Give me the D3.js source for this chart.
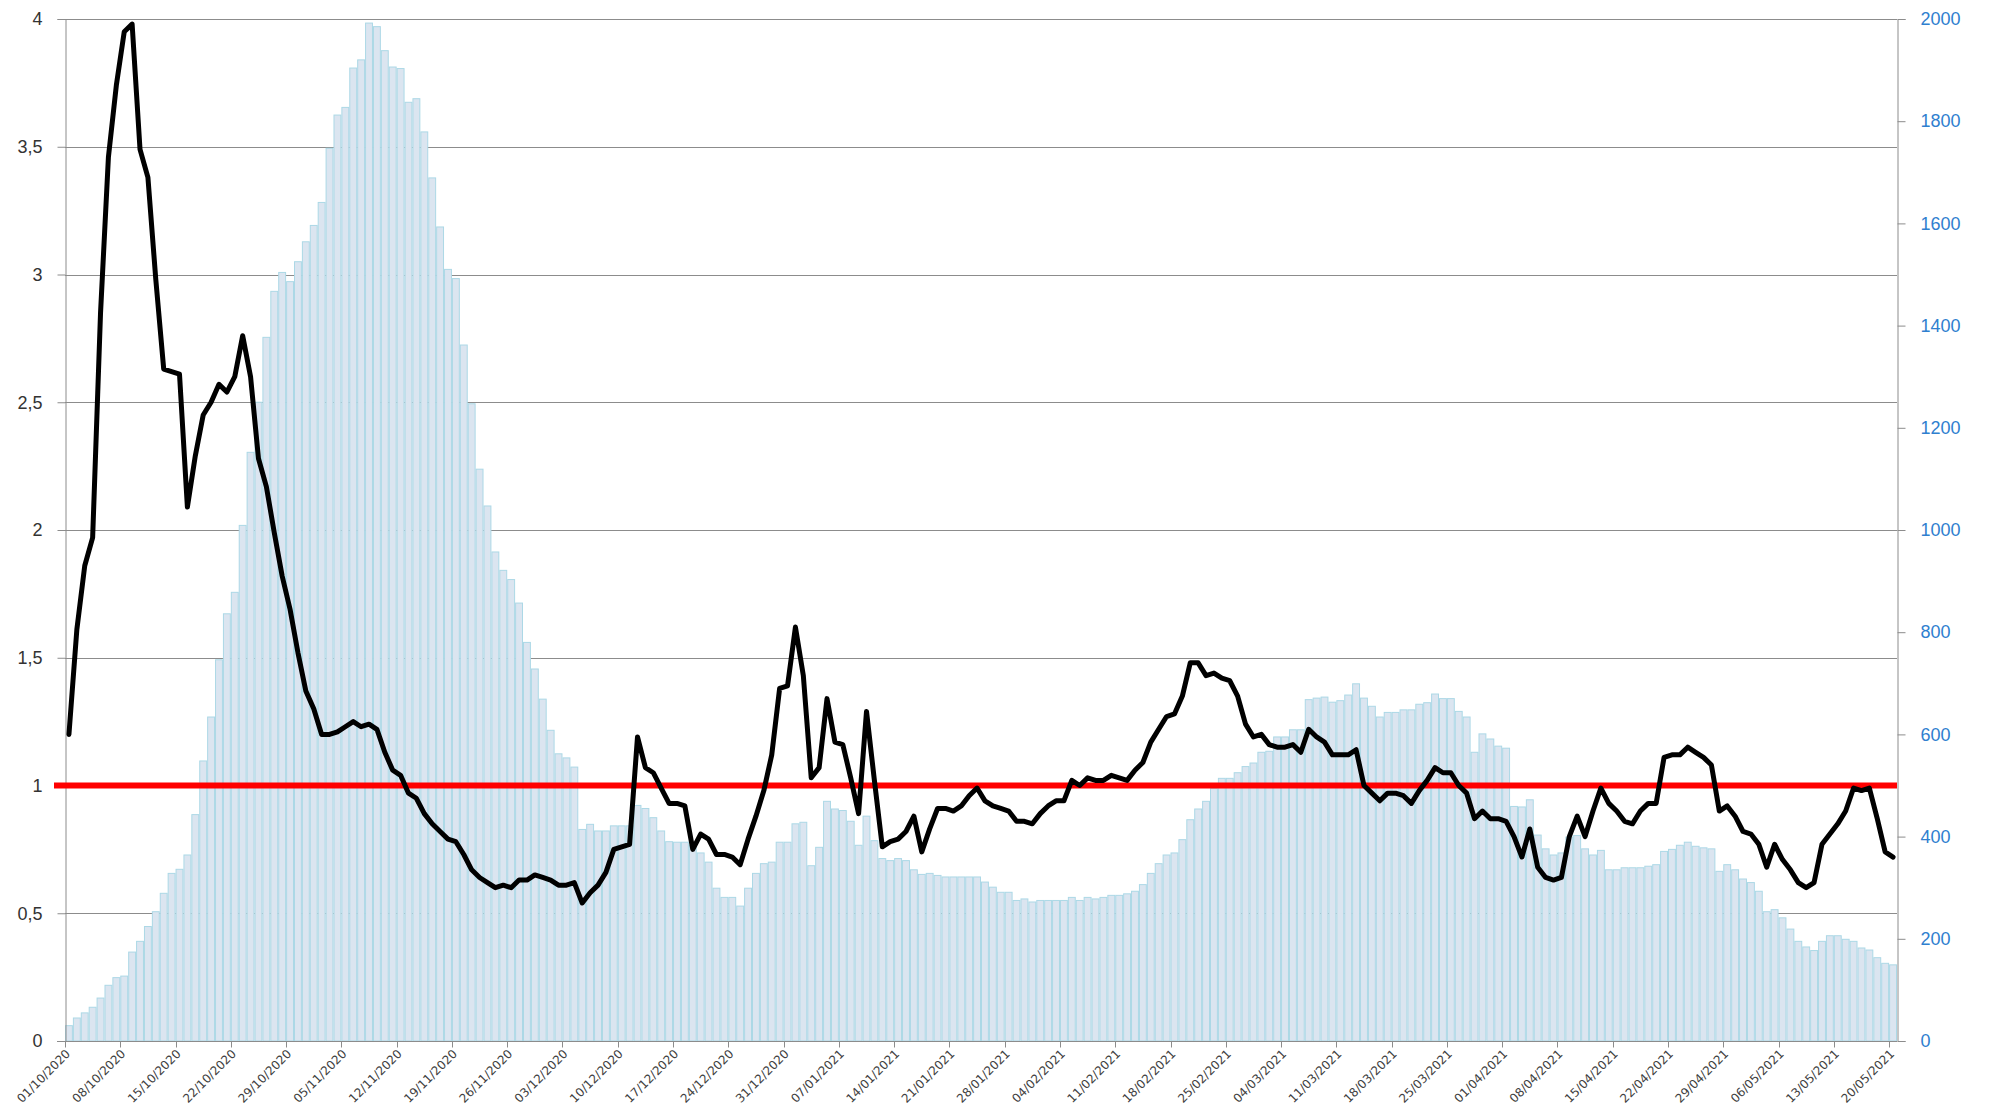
<!DOCTYPE html>
<html>
<head>
<meta charset="utf-8">
<script src="https://cdn.jsdelivr.net/npm/d3@7"></script>
<style>
  body { margin: 0; background: #fff; }
  svg { display: block; font-family: "DejaVu Sans", Verdana, sans-serif; }
</style>
</head>
<body>
<div class="svgContainer"></div>
<script>
const WIDTH = 1993;
const HEIGHT = 1110;
const PLOT_LEFT = 65;
const PLOT_RIGHT = 1897;
const PLOT_TOP = 19;
const PLOT_BOTTOM = 1041;
const formatDay = d3.timeFormat('%d/%m/%Y');
const formatComma = d => String(d).replace('.', ',');

// one bar per day, starting 01/10/2020
const START_DATE = new Date(2020, 9, 1);
const DAY_COUNT = 232;
const DAYS = d3.range(DAY_COUNT).map(i => d3.timeDay.offset(START_DATE, i));

// daily counts (right axis)
const CASES = [
  31, 46, 56, 67, 85, 110, 125, 128, 175, 196,
  225, 254, 290, 329, 337, 365, 444, 549, 635, 747,
  837, 879, 1010, 1153, 1251, 1378, 1468, 1505, 1487, 1526,
  1565, 1597, 1642, 1748, 1813, 1828, 1905, 1921, 1993, 1986,
  1939, 1907, 1904, 1838, 1845, 1780, 1690, 1594, 1511, 1493,
  1363, 1248, 1120, 1048, 958, 922, 904, 858, 781, 729,
  670, 609, 563, 555, 537, 415, 425, 412, 412, 422,
  422, 422, 462, 456, 438, 412, 391, 390, 390, 384,
  369, 351, 300, 282, 282, 265, 300, 329, 348, 351,
  390, 390, 426, 429, 344, 380, 470, 455, 452, 431,
  384, 441, 393, 358, 354, 358, 354, 336, 327, 329,
  325, 322, 322, 322, 322, 322, 312, 302, 292, 292,
  276, 279, 273, 276, 276, 276, 276, 282, 276, 282,
  279, 282, 286, 286, 289, 294, 307, 329, 348, 365,
  369, 395, 434, 455, 470, 495, 515, 515, 526, 538,
  545, 566, 568, 596, 596, 610, 610, 669, 672, 674,
  664, 667, 678, 700, 672, 656, 635, 644, 644, 649,
  649, 660, 663, 680, 671, 671, 646, 635, 566, 602,
  592, 578, 574, 460, 459, 473, 404, 377, 365, 369,
  400, 403, 377, 365, 374, 336, 336, 340, 340, 340,
  343, 346, 372, 376, 384, 390, 382, 379, 377, 333,
  346, 336, 318, 311, 294, 254, 258, 242, 220, 196,
  185, 178, 196, 207, 207, 200, 196, 183, 179, 164,
  153, 150
];

// reproduction rate (left axis)
const RT = [
  1.20, 1.61, 1.86, 1.97, 2.85, 3.46, 3.74, 3.95, 3.98, 3.49,
  3.38, 2.98, 2.63, 2.62, 2.61, 2.09, 2.29, 2.45, 2.50, 2.57,
  2.54, 2.60, 2.76, 2.60, 2.28, 2.17, 1.99, 1.82, 1.69, 1.52,
  1.37, 1.30, 1.20, 1.20, 1.21, 1.23, 1.25, 1.23, 1.24, 1.22,
  1.13, 1.06, 1.04, 0.97, 0.95, 0.89, 0.85, 0.82, 0.79, 0.78,
  0.73, 0.67, 0.64, 0.62, 0.60, 0.61, 0.60, 0.63, 0.63, 0.65,
  0.64, 0.63, 0.61, 0.61, 0.62, 0.54, 0.58, 0.61, 0.66, 0.75,
  0.76, 0.77, 1.19, 1.07, 1.05, 0.99, 0.93, 0.93, 0.92, 0.75,
  0.81, 0.79, 0.73, 0.73, 0.72, 0.69, 0.79, 0.88, 0.98, 1.12,
  1.38, 1.39, 1.62, 1.43, 1.03, 1.07, 1.34, 1.17, 1.16, 1.03,
  0.89, 1.29, 1.02, 0.76, 0.78, 0.79, 0.82, 0.88, 0.74, 0.83,
  0.91, 0.91, 0.90, 0.92, 0.96, 0.99, 0.94, 0.92, 0.91, 0.90,
  0.86, 0.86, 0.85, 0.89, 0.92, 0.94, 0.94, 1.02, 1.00, 1.03,
  1.02, 1.02, 1.04, 1.03, 1.02, 1.06, 1.09, 1.17, 1.22, 1.27,
  1.28, 1.35, 1.48, 1.48, 1.43, 1.44, 1.42, 1.41, 1.35, 1.24,
  1.19, 1.20, 1.16, 1.15, 1.15, 1.16, 1.13, 1.22, 1.19, 1.17,
  1.12, 1.12, 1.12, 1.14, 1.00, 0.97, 0.94, 0.97, 0.97, 0.96,
  0.93, 0.98, 1.02, 1.07, 1.05, 1.05, 1.00, 0.97, 0.87, 0.90,
  0.87, 0.87, 0.86, 0.80, 0.72, 0.83, 0.68, 0.64, 0.63, 0.64,
  0.80, 0.88, 0.80, 0.90, 0.99, 0.93, 0.90, 0.86, 0.85, 0.90,
  0.93, 0.93, 1.11, 1.12, 1.12, 1.15, 1.13, 1.11, 1.08, 0.90,
  0.92, 0.88, 0.82, 0.81, 0.77, 0.68, 0.77, 0.71, 0.67, 0.62,
  0.60, 0.62, 0.77, 0.81, 0.85, 0.90, 0.99, 0.98, 0.99, 0.87,
  0.74, 0.72
];

const THRESHOLD = 1;
const LEFT_TICKS = [0, 0.5, 1, 1.5, 2, 2.5, 3, 3.5, 4];
const RIGHT_TICKS = [0, 200, 400, 600, 800, 1000, 1200, 1400, 1600, 1800, 2000];
const TICK_EVERY = 7; // one date label per week

const svg = d3.select('.svgContainer')
.append('svg')
.attr('width', WIDTH)
.attr('height', HEIGHT);

const xScale = d3.scaleBand()
.domain(DAYS)
.range([PLOT_LEFT, PLOT_RIGHT])
.padding(0);

const yLeft = d3.scaleLinear()
.domain([0, 4])
.range([PLOT_BOTTOM, PLOT_TOP]);

const yRight = d3.scaleLinear()
.domain([0, 2000])
.range([PLOT_BOTTOM, PLOT_TOP]);

// horizontal gridlines sit behind the bars
svg.append('g')
.selectAll('line')
.data(LEFT_TICKS.filter(d => d > 0))
.enter()
.append('line')
.attr('x1', PLOT_LEFT)
.attr('x2', PLOT_RIGHT)
.attr('y1', d => Math.round(yLeft(d)) + 0.5)
.attr('y2', d => Math.round(yLeft(d)) + 0.5)
.attr('stroke', '#8c8c8c')
.attr('stroke-width', 1);

// bars
svg.append('g')
.selectAll('rect')
.data(CASES)
.enter()
.append('rect')
.attr('x', (d, i) => xScale(DAYS[i]) + 0.5)
.attr('y', d => yRight(d) + 0.5)
.attr('width', xScale.bandwidth() - 1)
.attr('height', d => PLOT_BOTTOM - yRight(d) - 0.5)
.attr('fill', '#dbe5f0')
.attr('stroke', '#acd8e6')
.attr('stroke-width', 1);

// left axis
const leftAxis = d3.axisLeft(yLeft)
.tickValues(LEFT_TICKS)
.tickSize(8)
.tickPadding(15)
.tickFormat(formatComma);
const gLeft = svg.append('g')
.attr('transform', `translate(${PLOT_LEFT + 0.5}, 0)`)
.call(leftAxis);
gLeft.selectAll('line, path').attr('stroke', '#8c8c8c');
gLeft.selectAll('text')
.attr('fill', '#333')
.style('font-size', '18px');

// right axis
const rightAxis = d3.axisRight(yRight)
.tickValues(RIGHT_TICKS)
.tickSize(8)
.tickPadding(15)
.tickFormat(d3.format('d'));
const gRight = svg.append('g')
.attr('transform', `translate(${PLOT_RIGHT + 0.5}, 0)`)
.call(rightAxis);
gRight.selectAll('line, path').attr('stroke', '#8c8c8c');
gRight.selectAll('text')
.attr('fill', '#2f80cf')
.style('font-size', '18px');

// bottom axis: ticks on the left edge of each weekly date
const weekly = DAYS.filter((d, i) => i % TICK_EVERY === 0);
const gBottom = svg.append('g')
.attr('transform', `translate(0, ${PLOT_BOTTOM + 0.5})`);
gBottom.append('line')
.attr('x1', PLOT_LEFT - 8)
.attr('x2', PLOT_RIGHT)
.attr('stroke', '#8c8c8c');
gBottom.selectAll('.tick')
.data(weekly)
.enter()
.append('line')
.attr('class', 'tick')
.attr('x1', d => Math.round(xScale(d)) + 0.5)
.attr('x2', d => Math.round(xScale(d)) + 0.5)
.attr('y1', 0)
.attr('y2', 6)
.attr('stroke', '#8c8c8c');
gBottom.selectAll('text')
.data(weekly)
.enter()
.append('text')
.attr('transform', d => `translate(${xScale(d) + 6}, 13) rotate(-45)`)
.attr('text-anchor', 'end')
.attr('fill', '#404040')
.style('font-size', '12px')
.text(formatDay);

// threshold line at 1
svg.append('line')
.attr('x1', 54)
.attr('x2', PLOT_RIGHT)
.attr('y1', yLeft(THRESHOLD))
.attr('y2', yLeft(THRESHOLD))
.attr('stroke', '#ff0000')
.attr('stroke-width', 6);

// rate line through bar centres
const line = d3.line()
.x((d, i) => xScale(DAYS[i]) + xScale.bandwidth() / 2)
.y(d => yLeft(d));
svg.append('path')
.datum(RT)
.attr('d', line)
.attr('fill', 'none')
.attr('stroke', '#000')
.attr('stroke-width', 5)
.attr('stroke-linejoin', 'round')
.attr('stroke-linecap', 'round');
</script>
</body>
</html>
